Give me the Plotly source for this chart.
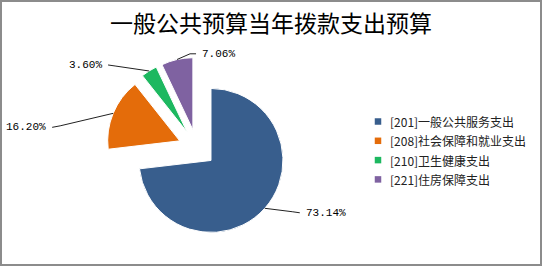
import math
import plotly.graph_objects as go

# ---- data ----
codes = ["[201]", "[208]", "[210]", "[221]"]
names = ["一般公共服务支出", "社会保障和就业支出", "卫生健康支出", "住房保障支出"]
values = [73.14, 16.20, 3.60, 7.06]
pct_labels = ["73.14%", "16.20%", "3.60%", "7.06%"]
title_text = "一般公共预算当年拨款支出预算"

# ---- styles / layout ----
colors = ["#385E8D", "#E46C0A", "#1DB860", "#7F62A1"]
W, H = 542, 266
PIE_CX, PIE_CY, PIE_R, PULL = 197.0, 148.0, 72.0, 0.26
# leader-line shape (bend offset, end offset) relative to the slice edge, and label side
leader_style = [
    ((28, 3.5), (35, 4.5), "left"),
    ((-53, 12.5), (-61, 14), "right"),
    ((-34, -5), (-41, -6), "right"),
    ((13, -5.7), (19, -5.7), "left"),
]
LEG_SQ_X, LEG_TXT_X, LEG_Y0, LEG_DY, LEG_SQ = 378, 388, 121.5, 19.3, 6.5


def px(x):
    return x / W


def py(y):
    return 1 - y / H


half = PIE_R * (1 + PULL)
fig = go.Figure()
fig.add_trace(go.Pie(
    labels=[c + n for c, n in zip(codes, names)],
    values=values,
    sort=False,
    direction="clockwise",
    rotation=0,
    pull=[PULL] * len(values),
    marker=dict(colors=colors, line=dict(color="white", width=1)),
    textinfo="none",
    hoverinfo="label+percent",
    showlegend=False,
    domain=dict(x=[px(PIE_CX - half), px(PIE_CX + half)],
                y=[py(PIE_CY + half), py(PIE_CY - half)]),
))

shapes = []
annotations = []
total = sum(values)
cum = 0.0
for i, v in enumerate(values):
    mid = (cum + v / 2) / total
    cum += v
    th = 2 * math.pi * mid
    dx, dy = math.sin(th), -math.cos(th)
    pcx = PIE_CX + PULL * PIE_R * dx
    pcy = PIE_CY + PULL * PIE_R * dy
    ex, ey = pcx + PIE_R * dx, pcy + PIE_R * dy
    (bx, by), (tx, ty), side = leader_style[i]
    b = (ex + bx, ey + by)
    t = (ex + tx, ey + ty)
    shapes.append(dict(
        type="path", xref="paper", yref="paper",
        path=f"M {px(ex)},{py(ey)} L {px(b[0])},{py(b[1])} L {px(t[0])},{py(t[1])}",
        line=dict(color="#222222", width=1),
    ))
    off = 4 if side == "left" else -4
    annotations.append(dict(
        x=px(t[0] + off), y=py(t[1]), xref="paper", yref="paper",
        text=pct_labels[i], showarrow=False, xanchor=side, yanchor="middle",
        font=dict(family="Liberation Mono", size=11, color="#000000"),
    ))

# manual legend
for i in range(len(values)):
    yc = LEG_Y0 + LEG_DY * i
    shapes.append(dict(
        type="rect", xref="paper", yref="paper",
        x0=px(LEG_SQ_X - LEG_SQ / 2), x1=px(LEG_SQ_X + LEG_SQ / 2),
        y0=py(yc + LEG_SQ / 2), y1=py(yc - LEG_SQ / 2),
        fillcolor=colors[i], line=dict(width=0),
    ))
    annotations.append(dict(
        x=px(LEG_TXT_X), y=py(yc), xref="paper", yref="paper",
        text=codes[i] + names[i], showarrow=False, xanchor="left", yanchor="middle",
        font=dict(family="Noto Sans CJK SC", size=12, color="#222222"),
    ))

# outer border
shapes.append(dict(
    type="rect", xref="paper", yref="paper",
    x0=px(1), x1=px(W - 1), y0=py(H - 1), y1=py(1),
    line=dict(color="#8C8C8C", width=2), fillcolor="rgba(0,0,0,0)",
))

fig.update_layout(
    width=W, height=H,
    margin=dict(l=0, r=0, t=0, b=0),
    paper_bgcolor="white", plot_bgcolor="white",
    title=dict(text=title_text, x=0.5, xanchor="center", y=1 - 24 / H, yanchor="middle",
               font=dict(family="Noto Sans CJK SC", size=23, color="#000000")),
    shapes=shapes,
    annotations=annotations,
)

fig.write_html("out.html")
